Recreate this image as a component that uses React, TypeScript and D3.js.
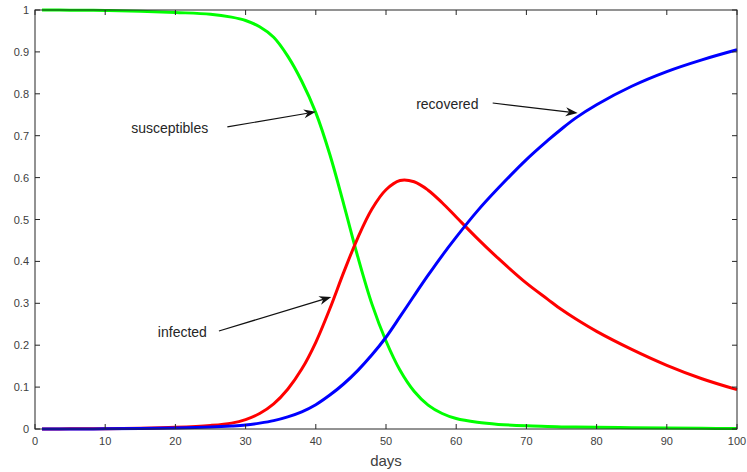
import React, { useEffect, useRef } from 'react'
import * as d3 from 'd3'

// days
const days = [1, 5, 10, 15, 20, 25, 28, 30, 32, 34, 36, 38, 40, 42, 44, 46, 48, 50, 52, 54, 56, 58, 60, 63, 66, 70, 73, 75, 77, 80, 85, 90, 95, 100]

const susceptibles = [1.0, 0.9996, 0.9988, 0.997, 0.994, 0.99, 0.983, 0.975, 0.96, 0.935, 0.89, 0.83, 0.755, 0.655, 0.535, 0.41, 0.298, 0.21, 0.14, 0.09, 0.057, 0.037, 0.025, 0.016, 0.011, 0.0075, 0.006, 0.005, 0.0045, 0.004, 0.003, 0.0022, 0.0016, 0.0012]

const infected = [0.0001, 0.0003, 0.0008, 0.0018, 0.004, 0.0085, 0.014, 0.0225, 0.037, 0.06, 0.095, 0.143, 0.207, 0.287, 0.375, 0.457, 0.525, 0.571, 0.593, 0.59, 0.57, 0.54, 0.506, 0.455, 0.407, 0.348, 0.31, 0.285, 0.263, 0.233, 0.19, 0.152, 0.12, 0.094]

const recovered = [0, 0.0001, 0.0004, 0.001, 0.0022, 0.0045, 0.007, 0.0095, 0.014, 0.02, 0.029, 0.041, 0.058, 0.081, 0.108, 0.14, 0.177, 0.219, 0.268, 0.318, 0.367, 0.414, 0.458, 0.52, 0.575, 0.643, 0.688, 0.716, 0.742, 0.774, 0.818, 0.853, 0.881, 0.905]

const xTicks = [0, 10, 20, 30, 40, 50, 60, 70, 80, 90, 100]
const yTicks = [0, 0.1, 0.2, 0.3, 0.4, 0.5, 0.6, 0.7, 0.8, 0.9, 1]

const seriesNames = ['susceptibles', 'infected', 'recovered']
const seriesColors = ['#00ff00', '#ff0000', '#0000ff']

// label position, arrow tail, arrow head in (day, value)
const annotations = [
    { text: 'susceptibles', label: [13.7, 0.706], from: [27.4, 0.721], to: [40, 0.757] },
    { text: 'infected', label: [17.5, 0.22], from: [26.2, 0.234], to: [42.2, 0.315] },
    { text: 'recovered', label: [54.3, 0.764], from: [65.2, 0.778], to: [77.3, 0.754] },
]

function App() {
    const ref = useRef<SVGSVGElement>(null)

    useEffect(() => {
        const width = 747
        const height = 472
        const margin = { top: 10, right: 10, bottom: 43, left: 35 }

        const svg = d3.select(ref.current)
        svg.selectAll('*').remove()

        const x = d3.scaleLinear().domain([0, 100]).range([margin.left, width - margin.right])
        const y = d3.scaleLinear().domain([0, 1]).range([height - margin.bottom, margin.top])

        const axisColor = '#262626'
        const font = 'Liberation Sans, Arial, Helvetica, sans-serif'
        const tickLen = 5

        // curves
        const series = [susceptibles, infected, recovered]
        const line = d3.line<number>()
            .x((_, i) => x(days[i]))
            .y(d => y(d))
            .curve(d3.curveCatmullRom.alpha(0.5))

        svg.append('g')
            .selectAll('path')
            .data(series)
            .join('path')
            .attr('class', (_, i) => `line--${seriesNames[i]}`)
            .attr('d', d => line(d))
            .attr('fill', 'none')
            .attr('stroke', (_, i) => seriesColors[i])
            .attr('stroke-width', 3)
            .attr('stroke-linejoin', 'round')

        // box
        svg.append('rect')
            .attr('x', x(0))
            .attr('y', y(1))
            .attr('width', x(100) - x(0))
            .attr('height', y(0) - y(1))
            .attr('fill', 'none')
            .attr('stroke', axisColor)
            .attr('stroke-width', 1)

        // ticks, pointing inward on all four sides
        const g = svg.append('g').attr('stroke', axisColor).attr('stroke-width', 1)
        g.selectAll('.xb').data(xTicks).join('line')
            .attr('x1', d => x(d)).attr('x2', d => x(d))
            .attr('y1', y(0)).attr('y2', y(0) - tickLen)
        g.selectAll('.xt').data(xTicks).join('line')
            .attr('x1', d => x(d)).attr('x2', d => x(d))
            .attr('y1', y(1)).attr('y2', y(1) + tickLen)
        g.selectAll('.yl').data(yTicks).join('line')
            .attr('x1', x(0)).attr('x2', x(0) + tickLen)
            .attr('y1', d => y(d)).attr('y2', d => y(d))
        g.selectAll('.yr').data(yTicks).join('line')
            .attr('x1', x(100)).attr('x2', x(100) - tickLen)
            .attr('y1', d => y(d)).attr('y2', d => y(d))

        // tick labels
        svg.append('g')
            .selectAll('text')
            .data(xTicks)
            .join('text')
            .attr('x', d => x(d))
            .attr('y', y(0) + 16)
            .attr('text-anchor', 'middle')
            .attr('font-family', font)
            .attr('font-size', 11)
            .attr('fill', '#404040')
            .text(d => d)

        svg.append('g')
            .selectAll('text')
            .data(yTicks)
            .join('text')
            .attr('x', x(0) - 6)
            .attr('y', d => y(d) + 4)
            .attr('text-anchor', 'end')
            .attr('font-family', font)
            .attr('font-size', 11)
            .attr('fill', '#404040')
            .text(d => d)

        svg.append('text')
            .attr('x', x(50))
            .attr('y', height - 6)
            .attr('text-anchor', 'middle')
            .attr('font-family', font)
            .attr('font-size', 15)
            .attr('fill', '#404040')
            .text('days')

        // annotations with arrows
        const ann = svg.append('g')
        for (const a of annotations) {
            ann.append('text')
                .attr('x', x(a.label[0]))
                .attr('y', y(a.label[1]))
                .attr('font-family', font)
                .attr('font-size', 14)
                .attr('fill', '#262626')
                .text(a.text)

            const x1 = x(a.from[0]), y1 = y(a.from[1])
            const x2 = x(a.to[0]), y2 = y(a.to[1])
            const ang = Math.atan2(y2 - y1, x2 - x1)
            const headLen = 12
            const headW = 4.5
            const bx = x2 - headLen * Math.cos(ang)
            const by = y2 - headLen * Math.sin(ang)
            const nx = x2 - headLen * 0.7 * Math.cos(ang)
            const ny = y2 - headLen * 0.7 * Math.sin(ang)
            const px = -Math.sin(ang) * headW
            const py = Math.cos(ang) * headW

            ann.append('line')
                .attr('x1', x1).attr('y1', y1)
                .attr('x2', nx).attr('y2', ny)
                .attr('stroke', '#111')
                .attr('stroke-width', 1.2)

            ann.append('path')
                .attr('d', `M${x2},${y2} L${bx + px},${by + py} L${nx},${ny} L${bx - px},${by - py} Z`)
                .attr('fill', '#111')
        }
    }, [])

    return (
        <svg
            ref={ref}
            width={747}
            height={472}
            viewBox="0 0 747 472"
            style={{ position: 'absolute', left: 0, top: 0, background: '#fff' }}
        />
    )
}

export default App
